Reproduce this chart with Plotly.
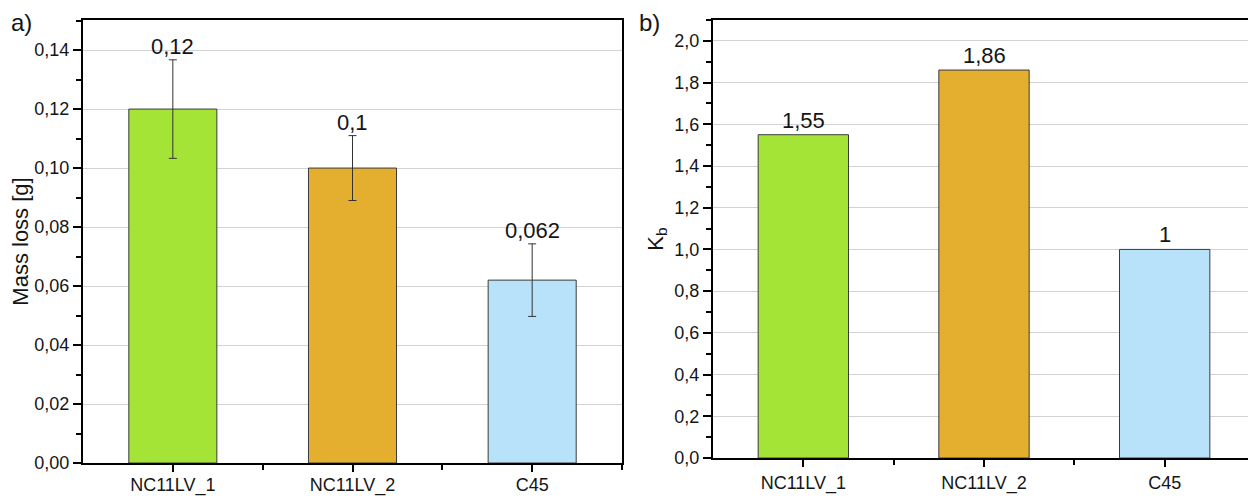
import plotly.graph_objects as go

categories = ["NC11LV_1", "NC11LV_2", "C45"]
mass_loss = [0.12, 0.10, 0.062]
mass_loss_err = [0.0167, 0.011, 0.0123]
kb_values = [1.55, 1.86, 1.0]
bar_colors = ["#A4E437", "#E4AE2F", "#B8E1FA"]

xpos = list(range(len(categories)))

def fmt(v):
    return f"{v:g}".replace(".", ",")

W, H = 1256, 498
OFF = 8  # page body margin in the browser
def px_x(a, b):
    return [(a - OFF) / W, (b - OFF) / W]
def px_y(top, bottom):
    return [1 - (bottom - OFF) / H, 1 - (top - OFF) / H]
def sx(a):
    return (a - OFF) / W
def sy(a):
    return 1 - (a - OFF) / H

fig = go.Figure()
fig.add_trace(go.Bar(
    x=xpos, y=mass_loss, width=0.49,
    marker=dict(color=bar_colors, line=dict(color="#3a3a3a", width=1)),
    error_y=dict(type="data", array=mass_loss_err, visible=True, color="#333333", thickness=1, width=4),
    xaxis="x", yaxis="y", showlegend=False, hoverinfo="skip"))
fig.add_trace(go.Bar(
    x=xpos, y=kb_values, width=0.5,
    marker=dict(color=bar_colors, line=dict(color="#3a3a3a", width=1)),
    xaxis="x2", yaxis="y2", showlegend=False, hoverinfo="skip"))

font_family = "Liberation Sans, Arial, sans-serif"
TXT = "#151515"
ann = []
for i, (v, e) in enumerate(zip(mass_loss, mass_loss_err)):
    ann.append(dict(x=i, y=v + e, xref="x", yref="y", text=fmt(v), showarrow=False,
                    yanchor="bottom", yshift=-1, font=dict(size=22, color=TXT)))
for i, v in enumerate(kb_values):
    ann.append(dict(x=i, y=v, xref="x2", yref="y2", text=fmt(v), showarrow=False,
                    yanchor="bottom", yshift=0, font=dict(size=22, color=TXT)))
ann.append(dict(x=sx(10), y=sy(8), xref="paper", yref="paper", text="a)", showarrow=False,
                xanchor="left", yanchor="top", borderpad=0, font=dict(size=24, color=TXT)))
ann.append(dict(x=sx(638), y=sy(8), xref="paper", yref="paper", text="b)", showarrow=False,
                xanchor="left", yanchor="top", borderpad=0, font=dict(size=24, color=TXT)))

common_x = dict(
    tickmode="array", tickvals=xpos, ticktext=categories, range=[-0.5, 2.5],
    showline=True, linecolor="black", linewidth=2, mirror=True, automargin=False,
    ticks="outside", ticklen=7, tickcolor="black", tickwidth=2,
    minor=dict(tickmode="array", tickvals=[0.5, 1.5, 2.5], ticks="outside", ticklen=5, tickcolor="black", tickwidth=2),
    showgrid=False, zeroline=False, tickfont=dict(size=18, color=TXT),
)
common_y = dict(
    showline=True, linecolor="black", linewidth=2, mirror=True, automargin=False,
    ticks="outside", ticklen=8, tickcolor="black", tickwidth=2,
    showgrid=True, gridcolor="#d2d2d2", gridwidth=1, zeroline=False,
    tickfont=dict(size=18, color=TXT),
)

fig.update_layout(
    width=W, height=H, margin=dict(l=0, r=0, t=0, b=0),
    paper_bgcolor="white", plot_bgcolor="white",
    separators=", ",
    font=dict(family=font_family, color=TXT),
    xaxis=dict(domain=px_x(83, 622), anchor="y", ticklabelstandoff=-3, **common_x),
    yaxis=dict(domain=px_y(20, 463), anchor="x", range=[0, 0.1502], dtick=0.02, tickformat=".2f",
               minor=dict(dtick=0.01, ticks="outside", ticklen=5, tickcolor="black", tickwidth=2),
               title=dict(text="Mass loss [g]", font=dict(size=22, color=TXT), standoff=4), **common_y),
    xaxis2=dict(domain=px_x(713, 1255), anchor="y2", **common_x),
    yaxis2=dict(domain=px_y(20, 458), anchor="x2", range=[0, 2.1], dtick=0.2, tickformat=".1f",
                minor=dict(dtick=0.1, ticks="outside", ticklen=5, tickcolor="black", tickwidth=2),
                title=dict(text="K<sub>b</sub>", font=dict(size=22, color=TXT), standoff=5), **common_y),
    annotations=ann,
)

fig.write_html("out.html")
